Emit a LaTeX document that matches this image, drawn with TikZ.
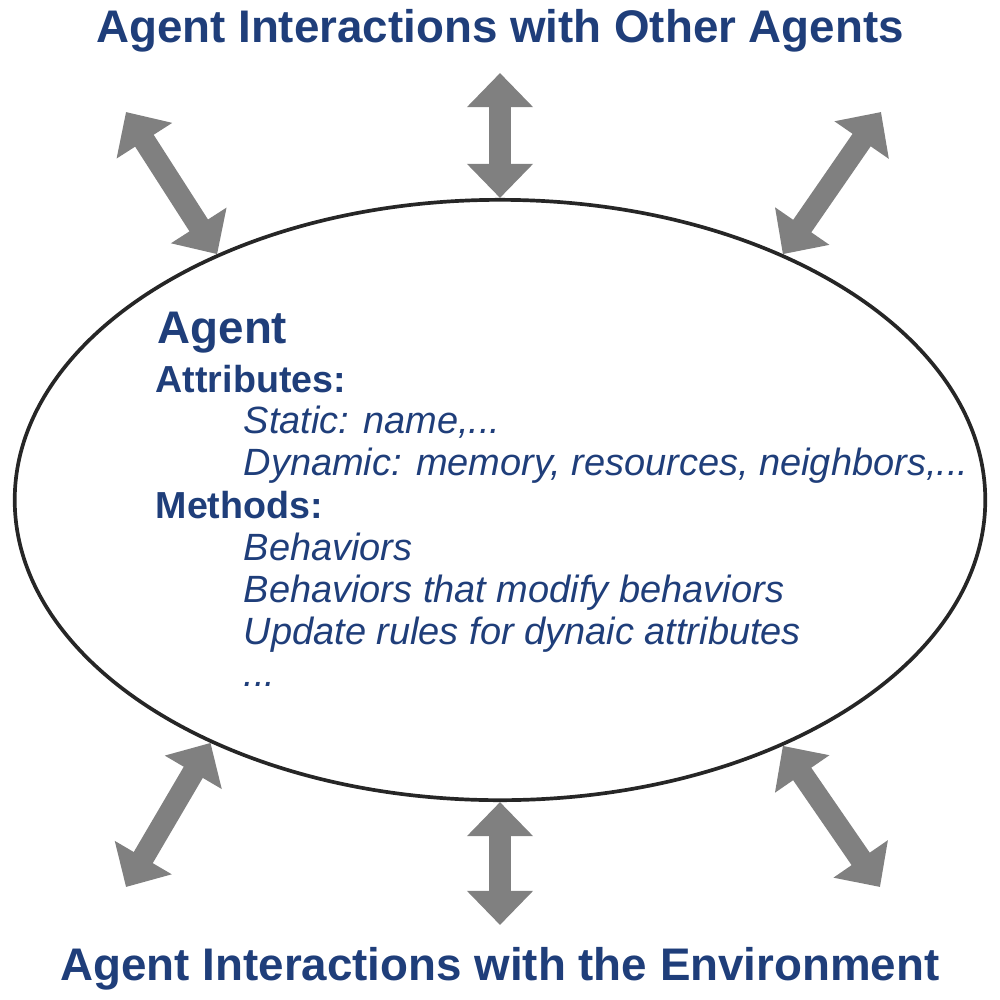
\documentclass[tikz,border=0pt]{standalone}
\usepackage{fontspec}
\setmainfont{Liberation Sans}
\usetikzlibrary{shapes.geometric,arrows.meta}
\definecolor{txtblue}{RGB}{31,62,122}
\definecolor{arrgray}{RGB}{128,128,128}
\begin{document}
\begin{tikzpicture}[x=0.01cm,y=-0.01cm,
  title/.style={font=\fontsize{13}{15}\selectfont\bfseries, text=txtblue, inner sep=0pt, anchor=base},
  head/.style={font=\fontsize{10.7}{13}\selectfont\bfseries, text=txtblue, inner sep=0pt, anchor=base west},
  item/.style={font=\fontsize{10.8}{13}\selectfont\itshape, text=txtblue, inner sep=0pt, anchor=base west},
  dblarrow/.style={draw=arrgray, line width=6.26pt,
     {Triangle[width=18.2pt,length=9.7pt]}-{Triangle[width=18.2pt,length=9.7pt]}}]
\useasboundingbox (0,0) rectangle (1000,1000);
\node[draw=black!85, line width=1.05pt, ellipse, minimum width=9.7cm, minimum height=6cm, inner sep=0pt] (ell) at (500,500) {};
\node[title] (ttop) at (500,42) {Agent Interactions with Other Agents};
\node[title] (tbot) at (500,980) {Agent Interactions with the Environment};
\node[font=\fontsize{13}{15}\selectfont\bfseries, text=txtblue, inner sep=0pt, anchor=base west] (agent) at (157,343) {Agent};
\node[head] (attr) at (155,392) {Attributes:};
\node[item] (stat) at (243,433) {Static: name,...};
\node[item] (dyn) at (243,475) {Dynamic: memory, resources, neighbors,...};
\node[head] (meth) at (155,518) {Methods:};
\node[item] (beh) at (243,560) {Behaviors};
\node[item] (bmod) at (243,602) {Behaviors that modify behaviors};
\node[item] (upd) at (243,644) {Update rules for dynaic attributes};
\node[item] (dots) at (243,686) {...};
\coordinate (a1) at (126,112);
\coordinate (a2) at (500,73);
\coordinate (a3) at (881,112);
\coordinate (b1) at (126,887);
\coordinate (b2) at (500,925);
\coordinate (b3) at (880,887);
\draw[dblarrow] (a1) -- (ell.139.8);
\draw[dblarrow] (a2) -- (ell.north);
\draw[dblarrow] (a3) -- (ell.41.1);
\draw[dblarrow] (b1) -- (ell.220.3);
\draw[dblarrow] (b2) -- (ell.south);
\draw[dblarrow] (b3) -- (ell.319.5);
\end{tikzpicture}
\end{document}
